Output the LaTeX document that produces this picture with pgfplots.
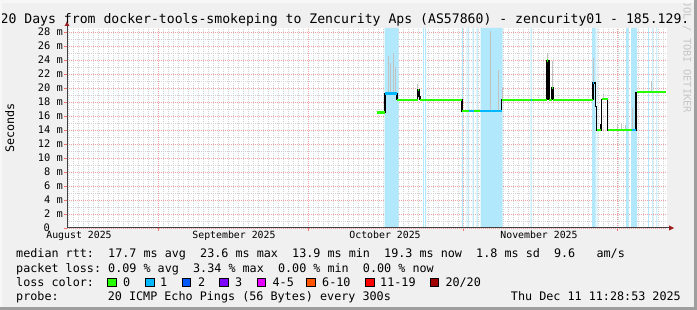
\documentclass[border=0pt]{standalone}
\usepackage{fontspec}
\setmainfont{DejaVu Sans Mono}
\usepackage{pgfplots}
\pgfplotsset{compat=1.18}

\definecolor{bgc}{HTML}{F0F0F0}
\definecolor{gridred}{HTML}{EDA2A2}
\definecolor{gridgray}{HTML}{D2D2D2}
\definecolor{axisc}{HTML}{404040}
\definecolor{arrowred}{HTML}{9B1C1C}
\definecolor{lossbg}{HTML}{B2E8FC}
\definecolor{smoke}{HTML}{C2C2C2}
\definecolor{lcA}{HTML}{26FF00}
\definecolor{lcB}{HTML}{00B8FF}
\definecolor{lcC}{HTML}{0059FF}
\definecolor{lcD}{HTML}{7E00FF}
\definecolor{lcE}{HTML}{E600FF}
\definecolor{lcF}{HTML}{FF5500}
\definecolor{lcG}{HTML}{FF0000}
\definecolor{lcH}{HTML}{A10000}

\newcommand\tickfont{\fontsize{10.4}{12}\selectfont}
\newcommand\monthfont{\fontsize{9.9}{12}\selectfont}
\newcommand\legfont{\fontsize{11.8}{13}\selectfont}
\newcommand\titlefont{\fontsize{13.2}{15}\selectfont}

% median rtt (steps): day since start, ms
\pgfplotstableread{
x y
62.06 16.5
63.60 19.2
66.00 18.3
70.10 19.7
70.40 18.8
70.60 18.3
79.00 16.7
86.94 18.3
96.00 23.9
96.40 18.3
96.90 20.0
97.20 18.3
105.20 20.7
105.74 17.3
105.94 14.0
106.80 14.7
106.94 18.4
108.14 14.0
113.80 19.4
119.70 19.4
}\median

\begin{document}
\begin{tikzpicture}
\useasboundingbox (0,0) rectangle (697bp,310bp);
\fill[bgc] (0,0) rectangle (697bp,310bp);
\begin{scope}
\clip (0,0) rectangle (697bp,310bp);

\begin{axis}[
  at={(67bp,82bp)}, anchor=south west,
  scale only axis, width=600bp, height=200bp,
  xmin=0, xmax=120, ymin=0, ymax=28.5714,
  axis line style={draw=none},
  axis background/.style={fill=white},
  tick pos=left,
  tick align=outside,
  major tick length=3bp,
  minor tick length=0pt,
  tick style={draw=gridred!70!red, line width=0.8bp},
  xtick={18.26,48.28,79.32,110.16},
  xticklabels={},
  minor xtick={0.26,1.26,...,119.26},
  ytick={2,4,...,28},
  yticklabels={2~m,4~m,6~m,8~m,10~m,12~m,14~m,16~m,18~m,20~m,22~m,24~m,26~m,28~m},
  extra y ticks={0},
  extra y tick labels={0},
  extra y tick style={yticklabel style={xshift=-13bp}},
  minor ytick={1,3,...,27},
  grid=both,
  major grid style={gridred, dash pattern=on 1bp off 1bp, line width=0.8bp},
  minor grid style={gridgray, dash pattern=on 1bp off 1bp, line width=0.8bp},
  yticklabel style={font=\tickfont, inner sep=0pt, anchor=east, xshift=-1bp},
  unbounded coords=jump,
  clip mode=individual,
]
% loss background bands
\addplot[const plot, fill=lossbg, draw=none] coordinates {
(63.52,28.6) (66.30,0) (71.20,28.6) (71.38,0) (71.64,28.6) (71.80,0)
(78.96,28.6) (79.24,0) (79.92,28.6) (80.08,0) (80.26,28.6) (80.42,0)
(81.14,28.6) (81.30,0) (81.94,28.6) (82.10,0) (82.70,28.6) (87.10,0)
(92.70,28.6) (92.90,0) (105.00,28.6) (105.70,0) (105.90,28.6) (106.06,0)
(111.80,28.6) (112.30,0) (112.80,28.6) (114.00,0) (116.20,28.6) (116.36,0)
(117.06,28.6) (117.22,0) (117.86,28.6) (118.02,0)
} \closedcycle;
% smoke
\addplot[smoke, line width=1bp] coordinates {
(64.2,19.2) (64.2,24.5) (nan,nan)
(64.7,19.2) (64.7,23.5) (nan,nan)
(65.2,19.2) (65.2,25.0) (nan,nan)
(65.7,19.2) (65.7,23.0) (nan,nan)
(70.1,19.7) (70.1,20.6) (nan,nan)
(84.6,16.7) (84.6,28.2) (nan,nan)
(86.26,16.7) (86.26,22.6) (nan,nan)
(87.14,18.3) (87.14,20.2) (nan,nan)
(96.06,23.9) (96.06,25.0) (nan,nan)
(97.06,20.0) (97.06,23.8) (nan,nan)
(105.26,20.7) (105.26,24.3) (nan,nan)
(107.2,18.4) (107.2,19.2) (nan,nan)
(110.0,14.0) (110.0,14.8) (nan,nan)
(110.8,14.0) (110.8,15.0) (nan,nan)
(111.6,14.0) (111.6,14.7) (nan,nan)
(113.14,14.0) (113.14,17.1) (nan,nan)
(116.94,19.4) (116.94,21.0)
};
% median (black steps)
\addplot[const plot, black, line width=1.2bp] table {\median};
% loss colour 0
\addplot[lcA, line width=2.6bp] coordinates {
(62.06,16.5) (63.60,16.5) (nan,nan)
(66.00,18.3) (70.10,18.3) (nan,nan)
(70.10,19.7) (70.40,19.7) (nan,nan)
(70.60,18.3) (79.00,18.3) (nan,nan)
(79.00,16.7) (80.30,16.7) (nan,nan)
(81.30,16.7) (82.60,16.7) (nan,nan)
(86.94,18.3) (92.70,18.3) (nan,nan)
(92.90,18.3) (96.00,18.3) (nan,nan)
(96.00,23.9) (96.15,23.9) (nan,nan)
(96.40,18.3) (96.90,18.3) (nan,nan)
(96.90,20.0) (97.10,20.0) (nan,nan)
(97.20,18.3) (105.20,18.3) (nan,nan)
(105.94,14.0) (106.80,14.0) (nan,nan)
(106.94,18.4) (108.14,18.4) (nan,nan)
(108.14,14.0) (112.90,14.0) (nan,nan)
(114.00,19.4) (119.70,19.4)
};
% loss colour 1
\addplot[lcB, line width=2.6bp] coordinates {
(63.60,19.2) (66.00,19.2) (nan,nan)
(80.30,16.7) (81.30,16.7) (nan,nan)
(82.60,16.7) (86.94,16.7) (nan,nan)
(92.70,18.3) (92.90,18.3) (nan,nan)
(105.20,20.7) (105.40,20.7) (nan,nan)
(112.90,14.0) (113.80,14.0)
};
% month labels
\node[anchor=base, inner sep=0pt, font=\monthfont, yshift=-11bp] at (axis cs:2.4,0) {August 2025};
\node[anchor=base, inner sep=0pt, font=\monthfont, yshift=-11bp] at (axis cs:33.4,0) {September 2025};
\node[anchor=base, inner sep=0pt, font=\monthfont, yshift=-11bp] at (axis cs:63.6,0) {October 2025};
\node[anchor=base, inner sep=0pt, font=\monthfont, yshift=-11bp] at (axis cs:94.4,0) {November 2025};
\end{axis}

% axes and arrows
\draw[axisc, line width=1bp] (67bp,82bp) -- (669bp,82bp);
\draw[axisc, line width=1bp] (67bp,82bp) -- (67bp,284bp);
\fill[arrowred] (669bp,79.5bp) -- (674bp,82bp) -- (669bp,84.5bp) -- cycle;
\fill[arrowred] (64.6bp,284bp) -- (67bp,288.6bp) -- (69.4bp,284bp) -- cycle;

% title
\node[anchor=base west, inner sep=0pt, font=\titlefont] at (-7.5bp,286.7bp)
  {120 Days from docker-tools-smokeping to Zencurity Aps (AS57860) - zencurity01 - 185.129.};
% y label
\node[rotate=90, anchor=base, inner sep=0pt, font=\legfont] at (14bp,182bp) {Seconds};
% watermark
\node[rotate=-90, anchor=base east, inner sep=0pt, font=\tickfont, text=black!22] at (683.5bp,196.7bp) {RRDTOOL / TOBI OETIKER};

% legend
\node[anchor=base west, inner sep=0pt, font=\legfont] at (16bp,52bp)
  {median rtt:~~17.7 ms avg~~23.6 ms max~~13.9 ms min~~19.3 ms now~~1.8 ms sd~~9.6~~~am/s};
\node[anchor=base west, inner sep=0pt, font=\legfont] at (16bp,38bp)
  {packet loss:~0.09 \% avg~~3.34 \% max~~0.00 \% min~~0.00 \% now};
\node[anchor=base west, inner sep=0pt, font=\legfont] at (16bp,24bp) {loss color:};
\foreach \sx/\lx/\c/\t in {107.6/123/lcA/{0}, 145.3/160/lcB/{1}, 182.2/197.8/lcC/{2}, 219.6/235/lcD/{3}, 256.9/272.4/lcE/{4-5}, 306.7/322/lcF/{6-10}, 365.3/380/lcG/{11-19}, 430.2/445.3/lcH/{20/20}}{
  \draw[fill=\c, draw=black, line width=0.7bp] (\sx bp,23.6bp) rectangle ++(8.6bp,8.4bp);
  \node[anchor=base west, inner sep=0pt, font=\legfont] at (\lx bp,24bp) {\t};
}
\node[anchor=base west, inner sep=0pt, font=\legfont] at (16bp,10bp) {probe:};
\node[anchor=base west, inner sep=0pt, font=\legfont] at (107.6bp,10bp) {20 ICMP Echo Pings (56 Bytes) every 300s};
\node[anchor=base east, inner sep=0pt, font=\legfont] at (681bp,10bp) {Thu Dec 11 11:28:53 2025};

% frame shading
\fill[white!97!black] (0,307bp) rectangle (697bp,310bp);
\fill[white!97!black] (0,0) rectangle (2bp,310bp);
\fill[black!38] (0,0) rectangle (697bp,2.7bp);
\fill[black!38] (694.3bp,0) rectangle (697bp,310bp);
\end{scope}
\end{tikzpicture}
\end{document}
